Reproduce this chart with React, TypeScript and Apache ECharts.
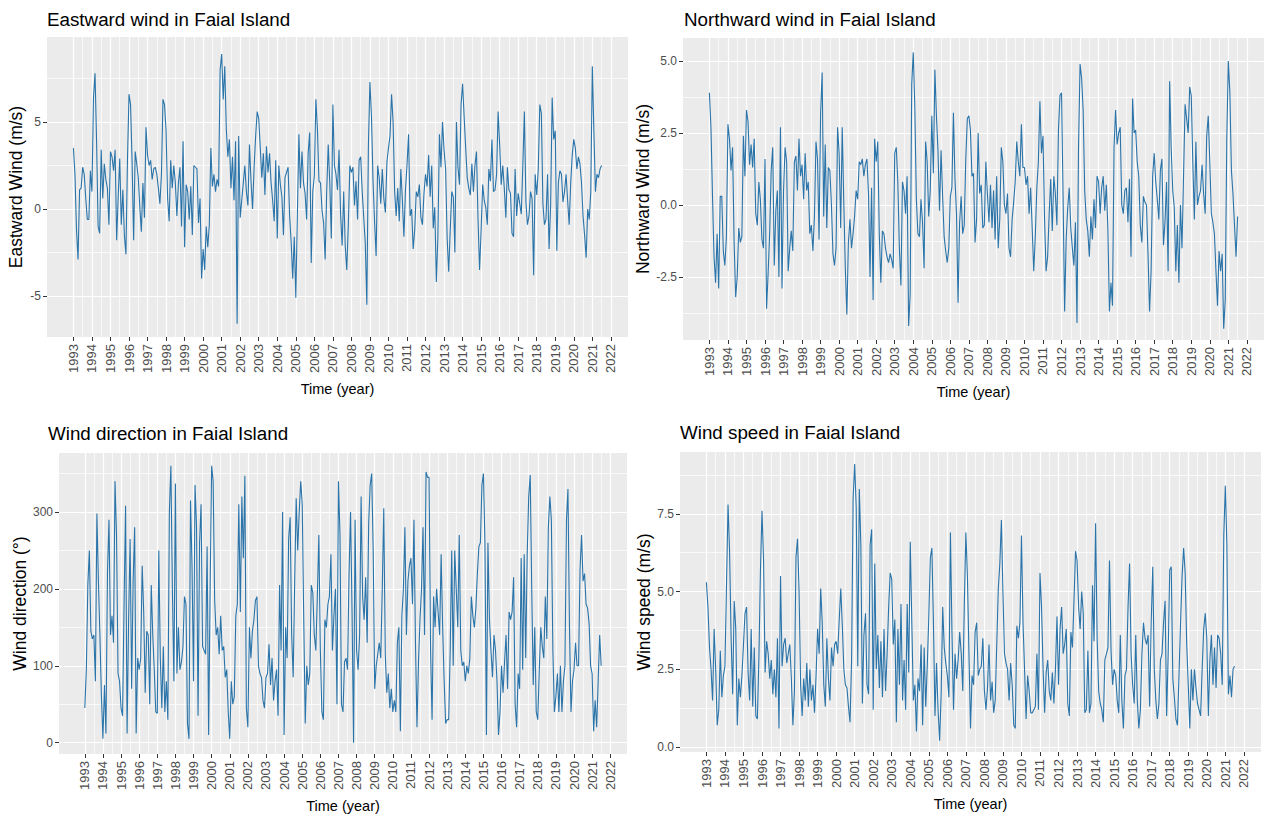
import { useEffect, useRef } from "react";
import * as echarts from "echarts";

// ---------- data (monthly, Jan 1993 – Jul 2021) ----------
const startYear = 1993;

const eastward = [
  3.5, 2.0, -1.2, -2.9, 1.1, 1.2, 2.4, 2.0, 0.6, -0.6, -0.6, 2.2,
  1.0, 6.4, 7.8, 3.9, -1.0, -1.4, 3.4, 0.6, 2.6, 1.7, 1.2, -0.9,
  3.3, 3.0, 2.2, 3.4, -1.8, 0.7, 2.9, -0.9, 1.1, -1.5, -2.6, 2.8,
  6.6, 6.0, 2.7, -1.8, 3.3, 2.6, 1.8, 0.1, -1.3, 1.5, -0.5, 4.7,
  3.1, 2.5, 2.8, 1.7, 2.3, 2.4, 2.0, 1.2, 0.3, 2.0, 6.3, 6.0,
  4.5, 0.6, -0.7, 2.8, 1.2, 2.5, 1.5, -0.4, 1.5, 2.4, -1.0, 3.9,
  -2.2, 1.4, 1.0, -0.6, 1.3, -1.5, 2.5, 2.4, 2.3, -0.8, 0.6, -4.0,
  -2.3, -3.5, -1.0, -2.2, -0.9, 3.5, 1.3, 2.0, 1.0, 1.7, 1.3, 8.0,
  8.9, 6.3, 8.2, 4.6, 3.0, 4.0, 1.2, 3.0, 0.5, 3.9, -6.6, 4.2,
  -0.5, 0.5, 1.5, 2.5, 1.0, 0.2, 3.7, 1.6, 0.0, 2.4, 4.2, 5.6,
  5.2, 3.5, 1.8, 3.2, 0.8, 3.6, 2.1, 3.2, 1.5, 0.5, -0.7, 2.8,
  -1.7, 2.5, 1.4, 0.7, -1.5, 1.8, 2.1, 2.4, -0.4, -1.9, -4.0, -1.6,
  -5.1, -0.4, 4.3, 1.2, 3.3, 1.5, 0.9, -0.6, 3.2, 4.4, -3.1, 1.0,
  1.9, 6.3, 4.6, 1.6, 1.5, -0.1, -0.8, -2.9, 1.0, 3.7, 1.5, -1.7,
  6.0, 2.5, 2.0, 1.1, 3.4, -0.3, -2.1, 1.0, -2.1, -3.5, -0.9, 2.5,
  2.1, 2.4, 0.2, 1.6, -0.6, 2.8, 3.0, 1.0, -0.5, -2.0, -5.5, 3.6,
  7.3, 5.3, 1.6, -0.7, -2.7, 2.5, 1.8, 0.3, 2.3, 0.6, -0.2, 2.7,
  3.5, 4.2, 6.6, 5.0, 1.0, -0.4, 1.2, -0.7, 2.3, 0.5, -1.6, 1.1,
  2.5, 4.3, -0.4, 0.0, -2.3, -1.2, 1.0, 0.7, 1.4, -0.5, -0.9, 0.9,
  2.0, 1.3, 3.1, 0.7, 2.5, -1.1, 0.1, -4.2, -1.6, 4.3, 2.4, 5.0,
  3.4, 2.3, -1.7, -3.6, -1.2, 1.0, 0.7, -2.5, 5.0, 2.4, 1.4, 6.0,
  7.2, 5.3, 3.5, 1.8, 1.2, 0.8, 2.6, 1.0, 2.5, 3.3, -0.6, -3.5,
  -1.2, 1.4, 0.5, 0.1, -0.9, 2.3, 1.6, 4.0, 1.0, 1.1, 2.0, 5.6,
  3.7, 1.4, 2.5, 1.2, -0.5, 2.4, 1.1, 0.9, -1.4, -1.6, 2.3, -0.4,
  0.9, 0.3, -0.3, 2.5, 5.6, 0.4, -0.9, -0.4, 1.0, 0.6, -3.8, 2.0,
  0.8, 2.3, 6.0, 5.5, 0.3, -0.9, -0.6, 2.0, -2.3, 0.2, 6.4, 4.0,
  4.5, -2.4, 1.5, 2.2, 2.0, 0.4, 1.0, 2.0, 0.5, -0.9, 1.5, 3.1,
  4.0, 3.5, 2.3, 3.0, 2.6, 1.5, -0.4, -1.5, -2.8, 0.0, -0.6, 1.0,
  8.2, 4.5, 1.0, 2.0, 1.8, 2.3, 2.5,
];

const northward = [
  3.9, 2.7, 0.3, -1.8, -2.7, -1.0, -2.9, 0.3, 0.3, -1.6, -2.1, -1.1,
  2.8, 2.3, 1.2, 2.0, -1.3, -3.2, -2.5, -0.8, -1.3, -1.1, 2.4, 1.0,
  3.3, 2.9, 1.4, 2.1, 1.3, 2.3, -0.3, -0.7, 0.8, 0.2, -1.2, -1.5,
  1.6, -3.6, -2.4, -1.0, 1.2, 2.0, -2.1, -0.2, 0.5, -2.5, 2.7, -2.9,
  0.5, 2.0, 1.5, -2.3, -1.5, -0.9, -1.6, 1.5, 1.7, 0.5, 2.3, 1.0,
  1.4, 0.2, 1.8, 0.5, 0.8, -1.0, -0.7, -1.6, -0.4, 2.2, 1.6, -1.2,
  3.2, 4.6, -0.4, 2.1, -0.8, 1.3, 1.2, 0.0, -1.7, -2.1, -1.5, 2.7,
  1.8, -0.8, 2.7, 0.1, -2.2, -3.8, -1.3, -0.5, -1.5, -1.0, -0.4, 0.5,
  0.2, 1.5, 1.4, 1.6, 1.0, 1.4, 1.6, 0.4, -2.5, 0.6, -3.3, 2.3,
  1.5, 2.2, -1.0, -2.7, -0.9, -1.0, -1.5, -1.8, -2.0, -1.7, -1.9, -2.2,
  1.8, 2.0, 0.8, -1.5, -2.8, 0.8, 0.5, -0.3, 1.0, -4.2, -3.1, 4.2,
  5.3, 3.4, 0.2, -1.0, -1.1, 0.2, -0.6, -2.2, 2.2, 1.5, -0.4, 0.5,
  3.1, 1.1, 4.7, 3.1, 1.9, -0.2, 1.9, 0.3, -1.1, -1.6, -2.0, -1.5,
  0.3, 0.6, 3.2, 0.9, -0.3, -3.4, -0.6, 0.3, -1.0, -0.7, 1.6, 3.0,
  3.1, 2.6, 1.0, 1.1, -1.3, -0.5, 2.5, 0.4, 0.7, -0.8, -0.7, 1.5,
  0.4, -0.6, 0.7, -0.8, 0.5, -1.2, 1.0, -1.5, -0.5, 2.0, 1.5, 0.0,
  -0.3, 0.4, -1.5, -1.8, -0.5, 0.1, 0.8, 2.2, 1.5, 1.0, 2.8, 1.3,
  1.3, 0.7, 1.0, -0.3, 0.6, -0.8, -2.3, -1.1, 0.6, 1.5, 3.6, 1.8,
  2.4, -0.5, -2.3, -1.8, -0.3, 0.9, -0.9, 1.0, 0.4, -0.7, 2.6, 3.8,
  3.9, 0.3, -3.7, -1.2, -0.1, 0.6, -0.8, -1.5, -2.1, -0.6, -4.1, 2.0,
  4.9, 4.4, 3.3, 0.5, -0.5, -0.9, -1.8, -0.4, -1.2, 0.2, -0.8, 1.0,
  0.8, -0.3, 0.6, 1.0, -0.2, 0.7, -0.8, -3.7, -2.7, -3.5, 2.0, 3.3,
  2.1, 2.5, 2.7, 0.0, -0.3, 0.5, 0.6, -0.6, 0.9, -1.8, 3.7, 2.5,
  2.6, 1.5, 1.0, -0.7, -1.3, 0.3, 0.1, 0.0, -1.7, -3.7, -2.3, 1.0,
  1.8, 0.8, 0.2, -0.5, 1.2, 1.6, -1.4, -0.6, 0.8, -2.3, 4.3, 2.0,
  0.5, -0.1, -2.3, -0.7, -2.7, 0.0, -1.5, 1.0, 3.5, 3.0, 2.5, 4.1,
  3.8, 1.5, -0.5, 2.2, 0.0, 0.3, 0.5, 1.4, 0.4, -0.3, 2.4, 3.1,
  1.5, -0.3, -0.6, -1.0, -2.3, -3.5, -1.6, -2.3, -1.7, -4.3, -3.3, 2.3,
  5.0, 3.9, 1.2, 0.4, -0.7, -1.8, -0.4,
];

const direction = [
  45, 95, 205, 250, 145, 135, 140, 80, 298, 210, 140, 60,
  5, 75, 12, 220, 290, 140, 165, 130, 340, 270, 90, 80,
  45, 35, 180, 308, 12, 160, 265, 70, 210, 280, 12, 110,
  95, 110, 230, 170, 65, 145, 140, 50, 205, 140, 95, 40,
  38, 250, 110, 45, 125, 40, 80, 30, 300, 360, 200, 80,
  337, 90, 150, 95, 105, 125, 190, 180, 25, 5, 315, 230,
  80, 335, 280, 35, 260, 310, 125, 120, 115, 255, 10, 200,
  360, 340, 185, 140, 150, 115, 165, 120, 125, 85, 95, 40,
  5, 80, 50, 60, 165, 180, 310, 170, 320, 240, 347, 45,
  20, 150, 110, 145, 160, 185, 190, 100, 90, 85, 55, 45,
  85, 90, 128, 75, 110, 55, 80, 95, 35, 205, 120, 300,
  10, 150, 110, 265, 293, 140, 85, 210, 318, 250, 300, 340,
  310, 160, 25, 100, 75, 90, 205, 195, 140, 120, 190, 270,
  120, 40, 30, 160, 150, 180, 190, 245, 120, 165, 200, 50,
  340, 270, 50, 40, 105, 110, 95, 220, 300, 170, 0, 290,
  120, 95, 140, 320, 190, 160, 215, 130, 285, 335, 350, 250,
  70, 100, 115, 130, 110, 200, 305, 115, 65, 90, 45, 70,
  40, 55, 40, 130, 150, 15, 165, 200, 280, 140, 210, 230,
  240, 180, 290, 130, 20, 105, 160, 200, 280, 140, 352, 345,
  345, 120, 30, 190, 150, 200, 170, 140, 245, 150, 80, 25,
  30, 30, 120, 250, 100, 250, 200, 150, 270, 120, 100, 105,
  80, 100, 90, 110, 190, 165, 150, 175, 220, 255, 260, 335,
  350, 260, 10, 260, 160, 120, 85, 140, 120, 80, 10, 40,
  100, 65, 105, 140, 70, 170, 160, 170, 215, 50, 20, 90,
  70, 240, 95, 245, 110, 245, 320, 348, 200, 75, 150, 40,
  30, 95, 150, 125, 110, 190, 135, 280, 320, 290, 120, 40,
  60, 90, 40, 100, 40, 80, 100, 290, 330, 150, 40, 80,
  95, 130, 100, 100, 225, 270, 210, 220, 180, 175, 155, 100,
  90, 15, 55, 20, 80, 140, 100,
];

const speed = [
  5.3, 4.5, 3.2, 2.5, 1.5, 3.8, 2.5, 0.7, 1.2, 3.1, 1.6, 2.3,
  2.6, 5.2, 7.8, 6.3, 3.5, 1.7, 4.7, 3.8, 0.7, 2.2, 1.6, 2.3,
  3.3, 4.3, 4.5, 2.4, 1.5, 3.8, 1.3, 3.2, 1.0, 0.9, 2.9, 5.7,
  7.6, 6.0, 2.4, 3.4, 3.0, 2.2, 2.8, 1.7, 2.5, 1.6, 3.5, 0.6,
  5.5, 2.6, 3.3, 3.5, 2.7, 3.0, 3.3, 2.2, 0.7, 1.8, 6.1, 6.7,
  5.0, 2.0, 1.0, 2.2, 1.5, 2.7, 1.3, 2.5, 1.5, 2.0, 1.1, 2.3,
  3.8, 3.0, 5.1, 4.0, 2.0, 1.3, 3.5, 2.2, 1.5, 3.2, 2.6, 3.3,
  3.4, 3.0, 4.1, 5.1, 3.9, 2.5, 2.0, 1.9, 1.3, 0.8, 2.8, 8.0,
  9.1, 7.7, 2.6, 8.3, 6.5, 1.4, 3.6, 4.3, 2.0, 1.7, 6.5, 7.0,
  1.2, 5.9, 2.5, 3.6, 1.9, 3.4, 1.6, 3.8, 1.8, 3.0, 4.5, 5.6,
  5.4, 3.3, 4.1, 0.8, 3.8, 2.0, 4.6, 1.5, 2.8, 1.2, 4.6, 2.4,
  6.6, 4.0, 1.5, 2.0, 0.5, 2.2, 1.8, 3.3, 0.7, 3.2, 1.3, 2.6,
  4.2, 6.1, 6.4, 4.0, 1.0, 2.7, 1.2, 0.2, 1.7, 4.5, 3.2, 2.7,
  2.3, 1.6, 6.9, 3.7, 1.2, 3.0, 2.2, 2.8, 3.7, 3.0, 1.8, 4.6,
  6.9, 5.5, 3.0, 0.6, 2.3, 2.0, 3.7, 4.0, 2.3, 2.5, 2.6, 3.5,
  1.8, 1.2, 1.9, 3.3, 1.5, 2.1, 1.1, 1.5, 3.3, 5.1, 5.9, 7.3,
  5.0, 3.0, 2.7, 2.5, 1.5, 2.7, 2.0, 0.7, 0.6, 3.9, 3.5, 4.0,
  6.8, 4.0, 2.5, 0.9, 2.3, 1.8, 1.1, 1.1, 1.2, 1.3, 3.0, 1.2,
  5.6, 4.5, 2.5, 1.1, 2.4, 2.8, 1.8, 1.5, 2.4, 1.4, 2.5, 4.2,
  2.0, 3.8, 4.5, 3.0, 3.3, 3.8, 1.4, 1.0, 3.7, 3.2, 4.7, 6.3,
  6.0, 4.5, 3.8, 5.0, 4.3, 1.1, 1.2, 3.1, 1.1, 1.4, 5.2, 3.4,
  7.2, 3.5, 1.8, 1.4, 1.2, 0.8, 2.8, 3.0, 3.2, 6.0, 3.1, 2.0,
  2.5, 2.3, 1.5, 1.1, 3.6, 1.5, 0.6, 2.3, 2.5, 4.5, 5.9, 3.0,
  2.0, 1.4, 3.6, 1.5, 0.6, 1.2, 3.0, 4.0, 3.5, 3.3, 3.6, 1.3,
  4.0, 5.8, 2.5, 1.5, 0.9, 1.4, 2.8, 3.0, 4.0, 4.7, 1.0, 3.0,
  5.7, 5.8, 2.2, 1.6, 0.9, 0.7, 2.3, 4.0, 5.5, 6.4, 5.6, 3.3,
  2.0, 0.6, 2.5, 1.5, 2.5, 1.9, 1.4, 1.2, 1.0, 2.5, 3.8, 4.3,
  3.5, 1.0, 2.8, 3.6, 2.0, 3.2, 1.9, 3.6, 3.5, 3.0, 2.0, 6.8,
  8.4, 6.5, 1.7, 2.3, 1.6, 2.5, 2.6,
];

// tick labels
const yearTicks = [
  1993, 1994, 1995, 1996, 1997, 1998, 1999, 2000, 2001, 2002,
  2003, 2004, 2005, 2006, 2007, 2008, 2009, 2010, 2011, 2012,
  2013, 2014, 2015, 2016, 2017, 2018, 2019, 2020, 2021, 2022,
];
const eastTicks = [-5, 0, 5];
const northTicks = [-2.5, 0, 2.5, 5];
const dirTicks = [0, 100, 200, 300];
const speedTicks = [0, 2.5, 5, 7.5];

// ---------- layout / style ----------
const FONT = "'Liberation Sans', Arial, sans-serif";
const LINE_COLOR = "#2B74A9";
const X_MIN = 1991.575;
const X_MAX = 2022.925;

const midpoints = (t: number[], extendLow: boolean, extendHigh: boolean) => {
  const step = t[1] - t[0];
  const out: number[] = [];
  if (extendLow) out.push(t[0] - step / 2);
  for (let i = 0; i < t.length - 1; i++) out.push((t[i] + t[i + 1]) / 2);
  if (extendHigh) out.push(t[t.length - 1] + step / 2);
  return out;
};

const halfYears = midpoints(yearTicks, false, false);

const panels = [
  {
    title: "Eastward wind in Faial Island",
    yName: "Eastward Wind (m/s)",
    data: eastward,
    grid: { left: 47, top: 37, width: 581, height: 300 },
    yMin: -7.356,
    yMax: 9.885,
    major: eastTicks,
    minor: midpoints(eastTicks, true, true),
    decimals: 0,
    yNameGap: 22,
    titlePos: { left: 47, top: 10 },
  },
  {
    title: "Northward wind in Faial Island",
    yName: "Northward Wind (m/s)",
    data: northward,
    grid: { left: 683, top: 38, width: 581, height: 302 },
    yMin: -4.69,
    yMax: 5.8,
    major: northTicks,
    minor: midpoints(northTicks, true, true),
    decimals: 1,
    yNameGap: 30,
    titlePos: { left: 684, top: 10 },
  },
  {
    title: "Wind direction in Faial Island",
    yName: "Wind direction (°)",
    data: direction,
    grid: { left: 59, top: 453, width: 568, height: 301 },
    yMin: -14.7,
    yMax: 376.7,
    major: dirTicks,
    minor: midpoints(dirTicks, false, true),
    decimals: 0,
    yNameGap: 30,
    titlePos: { left: 48, top: 424 },
  },
  {
    title: "Wind speed in Faial Island",
    yName: "Wind speed (m/s)",
    data: speed,
    grid: { left: 680, top: 452, width: 581, height: 300 },
    yMin: -0.16,
    yMax: 9.49,
    major: speedTicks,
    minor: midpoints(speedTicks, false, true),
    decimals: 1,
    yNameGap: 27,
    titlePos: { left: 680, top: 423 },
  },
];

export default function App() {
  const ref = useRef<HTMLDivElement>(null);

  useEffect(() => {
    if (!ref.current) return;
    const chart = echarts.init(ref.current, undefined, { renderer: "svg" });

    const grid: any[] = [];
    const xAxis: any[] = [];
    const yAxis: any[] = [];
    const series: any[] = [];
    const title: any[] = [];

    panels.forEach((p, i) => {
      grid.push({
        ...p.grid,
        show: true,
        backgroundColor: "#EBEBEB",
        borderWidth: 0,
        containLabel: false,
      });
      title.push({
        text: p.title,
        left: p.titlePos.left,
        top: p.titlePos.top,
        padding: 0,
        textStyle: { fontFamily: FONT, fontSize: 18.8, fontWeight: "normal", color: "#000000" },
      });
      // major x axis
      xAxis.push({
        type: "value",
        gridIndex: i,
        min: X_MIN,
        max: X_MAX,
        position: "bottom",
        axisLine: { show: false, onZero: false },
        axisTick: {
          show: true,
          customValues: yearTicks,
          length: 4,
          lineStyle: { color: "#333333", width: 1 },
        },
        axisLabel: {
          show: true,
          customValues: yearTicks,
          rotate: 90,
          margin: 7,
          fontSize: 13,
          fontFamily: FONT,
          color: "#4D4D4D",
          formatter: (v: number) => String(Math.round(v)),
        },
        splitLine: { show: true, lineStyle: { color: "#FFFFFF", width: 1.2 } },
        name: "Time (year)",
        nameLocation: "middle",
        nameGap: 44,
        nameTextStyle: { fontFamily: FONT, fontSize: 14.5, color: "#000000" },
      });
      // minor x axis (grid lines only)
      xAxis.push({
        type: "value",
        gridIndex: i,
        min: X_MIN,
        max: X_MAX,
        position: "top",
        axisLine: { show: false, onZero: false },
        axisTick: { show: false, customValues: halfYears },
        axisLabel: { show: false, customValues: halfYears },
        splitLine: { show: true, lineStyle: { color: "#FFFFFF", width: 0.7 } },
      });
      // major y axis
      yAxis.push({
        type: "value",
        gridIndex: i,
        min: p.yMin,
        max: p.yMax,
        position: "left",
        axisLine: { show: false, onZero: false },
        axisTick: {
          show: true,
          customValues: p.major,
          length: 4,
          lineStyle: { color: "#333333", width: 1 },
        },
        axisLabel: {
          show: true,
          customValues: p.major,
          margin: 6,
          fontSize: 12,
          fontFamily: FONT,
          color: "#4D4D4D",
          formatter: (v: number) => v.toFixed(p.decimals),
        },
        splitLine: { show: true, lineStyle: { color: "#FFFFFF", width: 1.2 } },
        name: p.yName,
        nameLocation: "middle",
        nameRotate: 90,
        nameGap: p.yNameGap,
        nameTextStyle: { fontFamily: FONT, fontSize: 17.5, color: "#000000" },
      });
      // minor y axis
      yAxis.push({
        type: "value",
        gridIndex: i,
        min: p.yMin,
        max: p.yMax,
        position: "right",
        axisLine: { show: false, onZero: false },
        axisTick: { show: false, customValues: p.minor },
        axisLabel: { show: false, customValues: p.minor },
        splitLine: { show: true, lineStyle: { color: "#FFFFFF", width: 0.7 } },
      });
      series.push({
        type: "line",
        xAxisIndex: 2 * i,
        yAxisIndex: 2 * i,
        data: p.data.map((v, k) => [startYear + k / 12, v]),
        showSymbol: false,
        symbol: "none",
        silent: true,
        z: 5,
        lineStyle: { color: LINE_COLOR, width: 1.1 },
      });
    });

    chart.setOption({
      animation: false,
      backgroundColor: "#FFFFFF",
      title,
      grid,
      xAxis,
      yAxis,
      series,
    });

    return () => chart.dispose();
  }, []);

  return (
    <div
      ref={ref}
      style={{ position: "absolute", left: 0, top: 0, width: 1267, height: 815 }}
    />
  );
}
